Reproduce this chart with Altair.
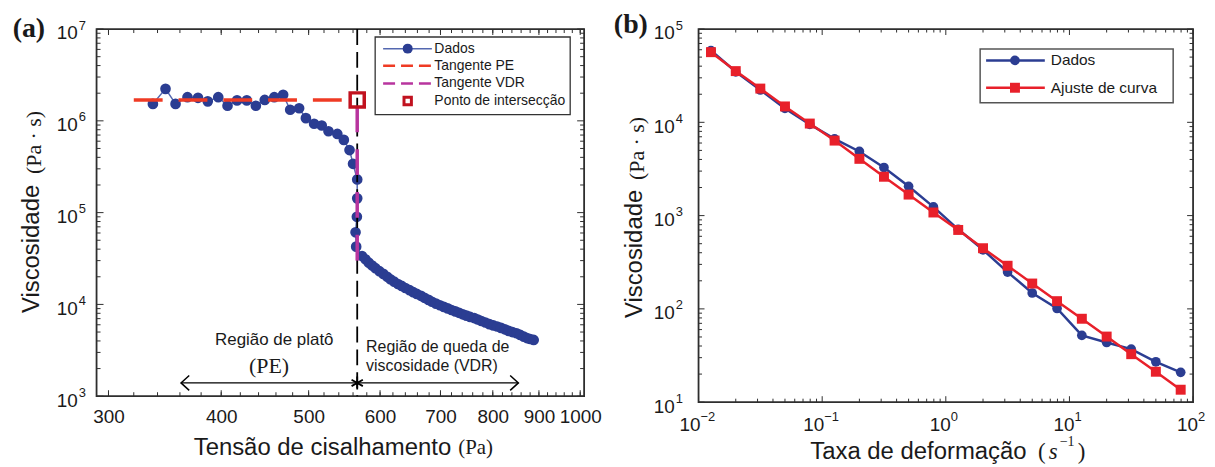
import altair as alt
import pandas as pd

# ================= (a) Viscosidade x Tensão de cisalhamento =================
tensao = [336, 347, 356, 367, 377, 386.5, 397, 406.5, 416.5, 427, 437, 447, 458, 468.5,
          477, 488, 496.5, 507, 517, 526, 538, 547, 555, 560, 566, 566, 565.5, 563.6, 564.5,
          573, 578, 583, 588, 593, 599, 605, 611, 616, 622, 628, 634, 640, 647, 653, 659,
          666, 672, 679, 685, 692, 699, 706, 713, 720, 727, 734, 741, 748, 755, 763, 770,
          777, 785, 793, 801, 809, 817, 825, 833, 841, 850, 858, 866, 873, 880, 888]
visc_a = [1.53e6, 2.23e6, 1.53e6, 1.81e6, 1.78e6, 1.63e6, 1.81e6, 1.46e6, 1.67e6, 1.67e6,
          1.46e6, 1.69e6, 1.81e6, 1.92e6, 1.32e6, 1.37e6, 1.07e6, 9.3e5, 8.9e5, 7.7e5,
          7.2e5, 6.2e5, 4.8e5, 3.4e5, 2.3e5, 1.43e5, 9.0e4, 6.1e4, 4.26e4,
          3.37e4, 3.1e4, 2.85e4, 2.65e4, 2.48e4, 2.3e4, 2.15e4, 2.0e4, 1.88e4, 1.77e4,
          1.67e4, 1.59e4, 1.51e4, 1.43e4, 1.36e4, 1.30e4, 1.24e4, 1.18e4, 1.12e4, 1.07e4,
          1.02e4, 9.8e3, 9.4e3, 9.05e3, 8.7e3, 8.4e3, 8.1e3, 7.8e3, 7.55e3, 7.3e3,
          7.1e3, 6.85e3, 6.6e3, 6.35e3, 6.1e3, 5.9e3, 5.75e3, 5.55e3, 5.35e3, 5.15e3,
          5.0e3, 4.85e3, 4.65e3, 4.45e3, 4.3e3, 4.2e3, 4.1e3]
pe_x = [320, 566]
pe_y = [1.69e6, 1.69e6]
vdr_x = [566, 566]
vdr_y = [1.69e6, 3.0e4]
inter_x = [566]
inter_y = [1.69e6]
seta_x = [361]
seta_x2 = [854]
seta_y = [1396]
xa_ticks = [300, 400, 500, 600, 700, 800, 900, 1000]
xa_minor = list(range(300, 1001, 20))
ya_ticks = [1e3, 1e4, 1e5, 1e6, 1e7]
ya_exp = ["3", "4", "5", "6", "7"]
ya_minor = [k * 10 ** e for e in range(3, 7) for k in range(2, 10)]

# ================= (b) Viscosidade x Taxa de deformação =================
taxa = [0.0126, 0.02, 0.0316, 0.05, 0.0794, 0.126, 0.2, 0.316, 0.5, 0.794,
        1.26, 2.0, 3.16, 5.0, 7.94, 12.6, 20.0, 31.6, 50.0, 79.4]
visc_dados_b = [5.88e4, 3.48e4, 2.22e4, 1.41e4, 9.5e3, 6.64e3, 4.87e3, 3.28e3, 2.06e3, 1.24e3,
                713, 430, 248, 148, 101, 52, 43.6, 37, 27.1, 20.9]
visc_ajuste_b = [5.65e4, 3.54e4, 2.30e4, 1.48e4, 9.7e3, 6.37e3, 4.06e3, 2.61e3, 1.68e3, 1.08e3,
                 702, 447, 290, 187, 121, 78.4, 50.5, 32.7, 21.2, 13.6]
xb_ticks_neg = [0.01, 0.1]
xb_exp_neg = ["−2", "−1"]
xb_ticks_pos = [1, 10, 100]
xb_exp_pos = ["0", "1", "2"]
xb_ticks = xb_ticks_neg + xb_ticks_pos
xb_minor = [k * 10.0 ** e for e in range(-2, 2) for k in range(2, 10)]
yb_ticks = [10, 100, 1e3, 1e4, 1e5]
yb_exp = ["1", "2", "3", "4", "5"]
yb_minor = [k * 10.0 ** e for e in range(1, 5) for k in range(2, 10)]

SANS = "Liberation Sans"
SERIF = "Liberation Serif"
TXT = "#1a1a1a"
FRAME = "#2e2e2e"
BLUE = "#2B3D92"
BLUE_LINE = "#5468B0"
RED_PE = "#EF3B24"
MAGENTA = "#B8359E"
DARKRED = "#C1121F"
RED_B = "#E8202A"

WA, HA = 490, 369
WB, HB = 497, 375

one = pd.DataFrame({"k": [0]})


def ptext(s, x, y, size, font=SANS, angle=0, align="center", baseline="middle",
          weight="normal", style="normal", color=TXT):
    return alt.Chart(one).mark_text(
        text=s, font=font, fontSize=size, angle=angle, align=align, baseline=baseline,
        fontWeight=weight, fontStyle=style, color=color
    ).encode(x=alt.value(x), y=alt.value(y))


def prule(x1, y1, x2, y2, color, width, dash=None):
    kw = dict(color=color, strokeWidth=width)
    if dash:
        kw["strokeDash"] = dash
    return alt.Chart(one).mark_rule(**kw).encode(
        x=alt.value(x1), y=alt.value(y1), x2=alt.value(x2), y2=alt.value(y2))


def ppoint(x, y, shape, size, fill=None, stroke=None, sw=1.0):
    kw = dict(shape=shape, size=size, strokeWidth=sw, opacity=1)
    if fill:
        kw["fill"] = fill
        kw["filled"] = True
    else:
        kw["filled"] = False
    if stroke:
        kw["stroke"] = stroke
    return alt.Chart(one).mark_point(**kw).encode(x=alt.value(x), y=alt.value(y))


def ticks_layers(X, Y, W, H, xmaj, xmin, ymaj, ymin, xmaj_len, xmin_len, ymaj_len, ymin_len):
    out = []
    for vals, ln in ((xmin, xmin_len), (xmaj, xmaj_len)):
        d = pd.DataFrame({"x": vals})
        out.append(alt.Chart(d).mark_rule(color=FRAME, strokeWidth=1).encode(
            x=X, y=alt.value(H), y2=alt.value(H - ln)))
        out.append(alt.Chart(d).mark_rule(color=FRAME, strokeWidth=1).encode(
            x=X, y=alt.value(0), y2=alt.value(ln)))
    for vals, ln in ((ymin, ymin_len), (ymaj, ymaj_len)):
        d = pd.DataFrame({"y": vals})
        out.append(alt.Chart(d).mark_rule(color=FRAME, strokeWidth=1).encode(
            y=Y, x=alt.value(0), x2=alt.value(ln)))
        out.append(alt.Chart(d).mark_rule(color=FRAME, strokeWidth=1).encode(
            y=Y, x=alt.value(W), x2=alt.value(W - ln)))
    return out


def ylabels(Y, vals, exps, xbase, xsup):
    d = pd.DataFrame({"y": vals, "b": ["10"] * len(vals), "s": exps})
    return [
        alt.Chart(d).mark_text(font=SANS, fontSize=19, color=TXT, align="right",
                               baseline="alphabetic", dy=10.5).encode(
            y=Y, x=alt.value(xbase), text="b:N"),
        alt.Chart(d).mark_text(font=SANS, fontSize=13, color=TXT, align="left",
                               baseline="alphabetic", dy=0.5).encode(
            y=Y, x=alt.value(xsup), text="s:N"),
    ]


# ---------------- panel (a) ----------------
XA_AXIS = alt.Axis(values=xa_ticks, format="d", ticks=False, tickSize=0, domain=False, grid=False,
                   labelPadding=11, labelOverlap=False, labelFlush=False, labelFont=SANS,
                   labelFontSize=19, labelColor=TXT, title=None)
XA = alt.X("x:Q", scale=alt.Scale(type="log", domain=[291, 1010], nice=False), axis=XA_AXIS)
XA2 = alt.X("x2:Q", scale=alt.Scale(type="log", domain=[291, 1010], nice=False), axis=XA_AXIS)
YA = alt.Y("y:Q", scale=alt.Scale(type="log", domain=[1e3, 1e7], nice=False), axis=None)

df_a = pd.DataFrame({"x": tensao, "y": visc_a, "i": list(range(len(tensao)))})
df_pe = pd.DataFrame({"x": pe_x, "y": pe_y})
df_vdr = pd.DataFrame({"x": vdr_x, "y": vdr_y})
df_int = pd.DataFrame({"x": inter_x, "y": inter_y})
df_seta = pd.DataFrame({"x": seta_x, "x2": seta_x2, "y": seta_y})

layers_a = ticks_layers(XA, YA, WA, HA, xa_ticks, xa_minor, ya_ticks, ya_minor, 6, 4, 7, 4)
layers_a += ylabels(YA, ya_ticks, ya_exp, -19, -18)
layers_a += [
    alt.Chart(df_a).mark_line(color=BLUE_LINE, strokeWidth=1.5).encode(x=XA, y=YA, order="i:Q"),
    alt.Chart(df_a).mark_point(filled=True, fill=BLUE, color=BLUE, size=115, opacity=1,
                               strokeWidth=0.5).encode(x=XA, y=YA),
    alt.Chart(df_pe).mark_line(color=RED_PE, strokeWidth=3.5, strokeDash=[29, 16]).encode(x=XA, y=YA),
    alt.Chart(df_int).mark_rule(color="black", strokeWidth=1.8, strokeDash=[16, 7]).encode(
        x=XA, y=alt.value(0), y2=alt.value(HA)),
    alt.Chart(df_vdr).mark_line(color=MAGENTA, strokeWidth=3.5, strokeDash=[26, 17]).encode(
        x=XA, y=YA, order="y:Q"),
    alt.Chart(df_int).mark_point(shape="square", size=200, filled=False, stroke=DARKRED,
                                 strokeWidth=3.5, opacity=1).encode(x=XA, y=YA),
    # arrows and annotations
    alt.Chart(df_seta).mark_rule(color="black", strokeWidth=1.3).encode(x=XA, x2="x2:Q", y=YA),
    alt.Chart(df_seta).mark_point(shape="M1.1,-1L0,0L1.1,1", size=225, filled=False,
                                  stroke="black", strokeWidth=1.5, opacity=1).encode(x=XA, y=YA),
    alt.Chart(df_seta).mark_point(shape="M-1.1,-1L0,0L-1.1,1", size=225, filled=False,
                                  stroke="black", strokeWidth=1.5, opacity=1).encode(x=XA2, y=YA),
    alt.Chart(pd.DataFrame({"x": inter_x, "y": seta_y})).mark_point(
        shape="M0,-1L0,1M-0.87,-0.5L0.87,0.5M-0.87,0.5L0.87,-0.5", size=170, filled=False,
        stroke="black", strokeWidth=1.8, opacity=1).encode(x=XA, y=YA),
    alt.Chart(pd.DataFrame({"x": [458], "y": [4108], "t": ["Região de platô"]})).mark_text(
        font=SANS, fontSize=17, color=TXT).encode(x=XA, y=YA, text="t:N"),
    alt.Chart(pd.DataFrame({"x": [452], "y": [2113], "t": ["(PE)"]})).mark_text(
        font=SERIF, fontSize=22, color=TXT).encode(x=XA, y=YA, text="t:N"),
    alt.Chart(pd.DataFrame({"x": [579, 579], "y": [3397, 2113],
                            "t": ["Região de queda de", "viscosidade (VDR)"]})).mark_text(
        font=SANS, fontSize=16, color=TXT, align="left").encode(x=XA, y=YA, text="t:N"),
    # legend (a)
    alt.Chart(one).mark_rect(fill="white", stroke="#333333", strokeWidth=1.3).encode(
        x=alt.value(280), x2=alt.value(476), y=alt.value(8), y2=alt.value(86)),
    prule(288, 19.7, 337, 19.7, BLUE_LINE, 1.5),
    ppoint(312.7, 19.7, "circle", 100, fill=BLUE),
    prule(288, 37, 337, 37, RED_PE, 2.5, [12, 6]),
    prule(288, 54.7, 337, 54.7, MAGENTA, 2.5, [12, 6]),
    ppoint(312.7, 72.3, "square", 55, stroke=DARKRED, sw=3),
    ptext("Dados", 339.5, 19.7, 14, align="left"),
    ptext("Tangente PE", 339.5, 37, 14, align="left"),
    ptext("Tangente VDR", 339.5, 54.7, 14, align="left"),
    ptext("Ponto de intersecção", 339.5, 72.3, 14, align="left"),
    # titles
    ptext("(a)", -68, 0, 28, font=SERIF, weight="bold"),
    ptext("Viscosidade", -65, 221, 24, angle=270),
    ptext("(Pa · s)", -62.5, 114, 22, font=SERIF, angle=270),
    ptext("Tensão de cisalhamento", 227, 421, 24),
    ptext("(Pa)", 381, 421, 21, font=SERIF),
]
panel_a = alt.layer(*layers_a).properties(width=WA, height=HA)

# ---------------- panel (b) ----------------
XB = alt.X("x:Q", scale=alt.Scale(type="log", domain=[0.01, 100], nice=False), axis=None)
YB = alt.Y("y:Q", scale=alt.Scale(type="log", domain=[10, 1e5], nice=False), axis=None)

df_bd = pd.DataFrame({"x": taxa, "y": visc_dados_b})
df_ba = pd.DataFrame({"x": taxa, "y": visc_ajuste_b})


def xlabels_b(vals, exps, dx):
    d = pd.DataFrame({"x": vals, "b": ["10"] * len(vals), "s": exps})
    return [
        alt.Chart(d).mark_text(font=SANS, fontSize=19, color=TXT, align="right",
                               baseline="alphabetic", dx=dx).encode(
            x=XB, y=alt.value(HB + 29), text="b:N"),
        alt.Chart(d).mark_text(font=SANS, fontSize=13, color=TXT, align="left",
                               baseline="alphabetic", dx=dx).encode(
            x=XB, y=alt.value(HB + 19), text="s:N"),
    ]


layers_b = ticks_layers(XB, YB, WB, HB, xb_ticks, xb_minor, yb_ticks, yb_minor, 6, 3.5, 6, 3.5)
layers_b += ylabels(YB, yb_ticks, yb_exp, -24, -23)
layers_b += xlabels_b(xb_ticks_neg, xb_exp_neg, 2)
layers_b += xlabels_b(xb_ticks_pos, xb_exp_pos, 5)
layers_b += [
    alt.Chart(df_bd).mark_line(color=BLUE, strokeWidth=2.5).encode(x=XB, y=YB),
    alt.Chart(df_bd).mark_point(filled=True, fill=BLUE, color=BLUE, size=95, opacity=1).encode(x=XB, y=YB),
    alt.Chart(df_ba).mark_line(color=RED_B, strokeWidth=2.5).encode(x=XB, y=YB),
    alt.Chart(df_ba).mark_point(shape="square", filled=True, fill=RED_B, color=RED_B, size=100,
                                opacity=1).encode(x=XB, y=YB),
    # legend (b)
    alt.Chart(one).mark_rect(fill="white", stroke="#555555", strokeWidth=1.5).encode(
        x=alt.value(283), x2=alt.value(477), y=alt.value(20), y2=alt.value(74)),
    prule(289, 31.5, 348, 31.5, BLUE, 2.5),
    ppoint(318, 31.5, "circle", 95, fill=BLUE),
    prule(289, 59, 348, 59, RED_B, 2.5),
    ppoint(318, 59, "square", 100, fill=RED_B),
    ptext("Dados", 354, 31.5, 15.5, align="left"),
    ptext("Ajuste de curva", 354, 59, 15.5, align="left"),
    # titles
    ptext("(b)", -68, -4, 28, font=SERIF, weight="bold"),
    ptext("Viscosidade", -64, 226, 24, angle=270),
    ptext("(Pa · s)", -62, 120, 22, font=SERIF, angle=270),
    ptext("Taxa de deformação", 221, 425, 24),
    ptext("(", 345, 425, 23, font=SERIF),
    ptext("s", 352, 425, 23, font=SERIF, style="italic", align="left"),
    ptext("−1", 363, 415, 14, font=SERIF, align="left"),
    ptext(")", 385, 425, 23, font=SERIF),
]
panel_b = alt.layer(*layers_b).properties(width=WB, height=HB)

chart = alt.hconcat(panel_a, panel_b, spacing=115, bounds="flush").properties(
    padding={"left": 3, "top": 1, "right": 0, "bottom": 0}
).configure_view(stroke=FRAME, strokeWidth=1.8)

chart.save("out.html", embed_options={"renderer": "svg", "actions": False})
